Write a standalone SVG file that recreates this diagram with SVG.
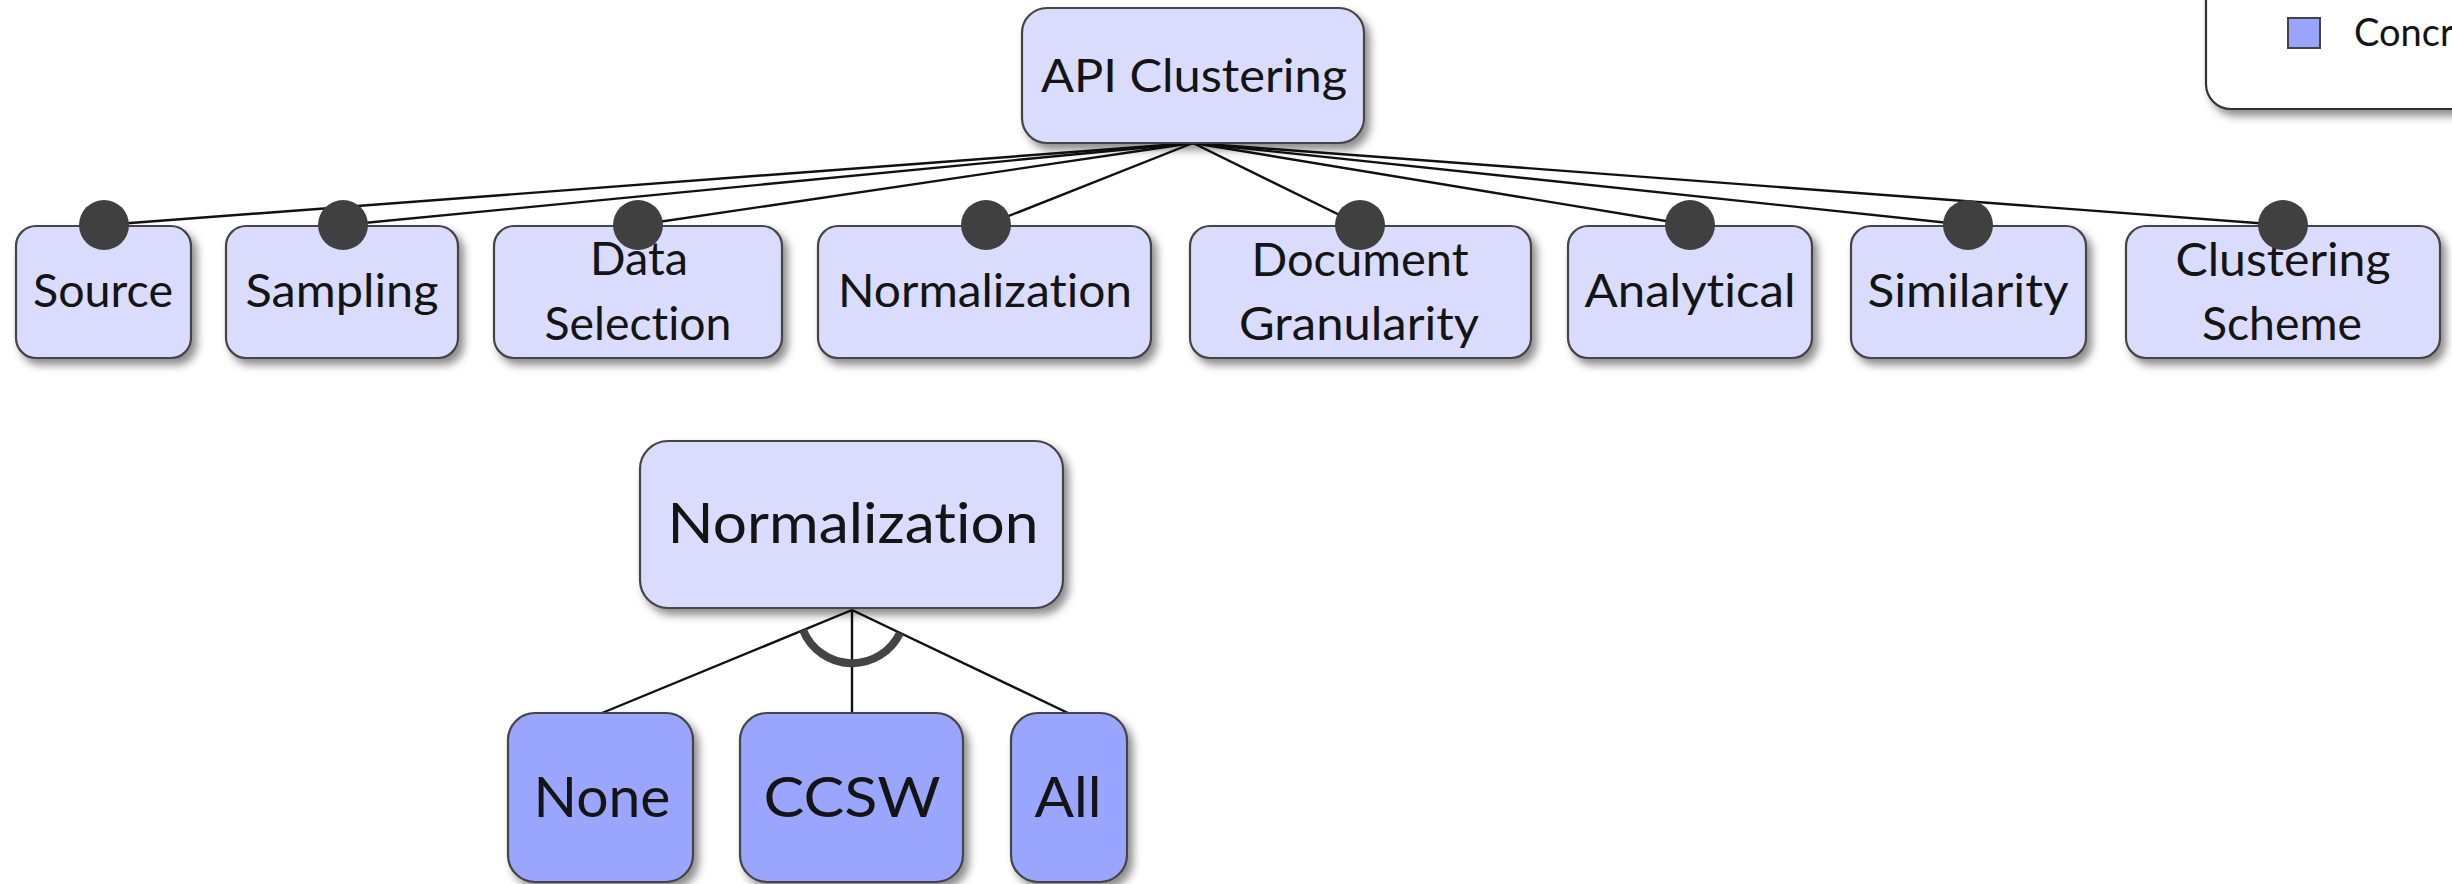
<svg xmlns="http://www.w3.org/2000/svg" width="2452" height="884" viewBox="0 0 2452 884">
  <defs>
    <filter id="shadow" x="-20%" y="-20%" width="150%" height="160%">
      <feDropShadow dx="5" dy="6" stdDeviation="4" flood-color="#000" flood-opacity="0.45"/>
    </filter>
  </defs>
  <style>
    text { font-variant-ligatures: none; font-feature-settings: "liga" 0, "clig" 0; }
    .feature { fill: #d9dcfc; stroke: #444; stroke-width: 2.2; filter: url(#shadow); }
    .concrete { fill: #9aa6fd; stroke: #444; stroke-width: 2.2; filter: url(#shadow); }
    .legend { fill: #fff; stroke: #333; stroke-width: 2.2; filter: url(#shadow); }
    .label { font-family: Lato, "Open Sans", sans-serif; fill: #141414; text-anchor: middle; }
    .top { font-size: 46px; }
    .big { font-size: 57px; }
    .edge { stroke: #111; stroke-width: 2.4; fill: none; }
    .mandatory { fill: #404040; }
    .alt { stroke: #444; stroke-width: 8; fill: none; }
  </style>

  <!-- legend panel (runs off the top-right edge) -->
  <g id="legend">
    <rect class="legend" x="2206" y="-40" width="300" height="149" rx="25"/>
    <rect x="2288" y="18" width="32" height="30" fill="#9aa6fd" stroke="#444" stroke-width="2"/>
    <text x="2354" y="46" font-family="Lato, 'Open Sans', sans-serif" font-size="38" fill="#141414">Concrete</text>
  </g>

  <!-- connectors -->
  <g id="connectors">
    <line class="edge" x1="1193" y1="143" x2="104" y2="225"/>
    <line class="edge" x1="1193" y1="143" x2="343" y2="225"/>
    <line class="edge" x1="1193" y1="143" x2="638" y2="225"/>
    <line class="edge" x1="1193" y1="143" x2="986" y2="225"/>
    <line class="edge" x1="1193" y1="143" x2="1360" y2="225"/>
    <line class="edge" x1="1193" y1="143" x2="1690" y2="225"/>
    <line class="edge" x1="1193" y1="143" x2="1968" y2="225"/>
    <line class="edge" x1="1193" y1="143" x2="2283" y2="225"/>
    <line class="edge" x1="852" y1="610" x2="602" y2="713"/>
    <line class="edge" x1="852" y1="610" x2="852" y2="713"/>
    <line class="edge" x1="852" y1="610" x2="1068" y2="713"/>
    <!-- alternative-group arc -->
    <path class="alt" d="M 803 630 A 53 53 0 0 0 900 633"/>
  </g>

  <g id="api-clustering">
    <rect class="feature" x="1022" y="8" width="342" height="135" rx="25"/>
    <text class="label top" x="1194" y="92" textLength="306" lengthAdjust="spacingAndGlyphs">API Clustering</text>
  </g>

  <g id="source">
    <rect class="feature" x="16" y="226" width="175" height="132" rx="20"/>
    <text class="label top" x="103" y="307" textLength="140" lengthAdjust="spacingAndGlyphs">Source</text>
  </g>
  <g id="sampling">
    <rect class="feature" x="226" y="226" width="232" height="132" rx="20"/>
    <text class="label top" x="342" y="307" textLength="193" lengthAdjust="spacingAndGlyphs">Sampling</text>
  </g>
  <g id="data-selection">
    <rect class="feature" x="494" y="226" width="288" height="132" rx="20"/>
    <text class="label top" x="639" y="275" textLength="98" lengthAdjust="spacingAndGlyphs">Data</text>
    <text class="label top" x="638" y="340" textLength="187" lengthAdjust="spacingAndGlyphs">Selection</text>
  </g>
  <g id="normalization">
    <rect class="feature" x="818" y="226" width="333" height="132" rx="20"/>
    <text class="label top" x="985" y="307" textLength="294" lengthAdjust="spacingAndGlyphs">Normalization</text>
  </g>
  <g id="document-granularity">
    <rect class="feature" x="1190" y="226" width="341" height="132" rx="20"/>
    <text class="label top" x="1360" y="276" textLength="217" lengthAdjust="spacingAndGlyphs">Document</text>
    <text class="label top" x="1359" y="340" textLength="240" lengthAdjust="spacingAndGlyphs">Granularity</text>
  </g>
  <g id="analytical">
    <rect class="feature" x="1568" y="226" width="244" height="132" rx="20"/>
    <text class="label top" x="1690" y="307" textLength="211" lengthAdjust="spacingAndGlyphs">Analytical</text>
  </g>
  <g id="similarity">
    <rect class="feature" x="1851" y="226" width="235" height="132" rx="20"/>
    <text class="label top" x="1968" y="307" textLength="201" lengthAdjust="spacingAndGlyphs">Similarity</text>
  </g>
  <g id="clustering-scheme">
    <rect class="feature" x="2126" y="226" width="314" height="132" rx="20"/>
    <text class="label top" x="2283" y="276" textLength="215" lengthAdjust="spacingAndGlyphs">Clustering</text>
    <text class="label top" x="2282" y="340" textLength="160" lengthAdjust="spacingAndGlyphs">Scheme</text>
  </g>

  <!-- mandatory markers on top of the child nodes -->
  <g id="mandatory-markers">
    <circle class="mandatory" cx="104" cy="225" r="25"/>
    <circle class="mandatory" cx="343" cy="225" r="25"/>
    <circle class="mandatory" cx="638" cy="225" r="25"/>
    <circle class="mandatory" cx="986" cy="225" r="25"/>
    <circle class="mandatory" cx="1360" cy="225" r="25"/>
    <circle class="mandatory" cx="1690" cy="225" r="25"/>
    <circle class="mandatory" cx="1968" cy="225" r="25"/>
    <circle class="mandatory" cx="2283" cy="225" r="25"/>
  </g>

  <g id="normalization-detail">
    <rect class="feature" x="640" y="441" width="423" height="167" rx="28"/>
    <text class="label big" x="853" y="543" textLength="371" lengthAdjust="spacingAndGlyphs">Normalization</text>
  </g>
  <g id="none">
    <rect class="concrete" x="508" y="713" width="185" height="169" rx="27"/>
    <text class="label big" x="602" y="817" textLength="137" lengthAdjust="spacingAndGlyphs">None</text>
  </g>
  <g id="ccsw">
    <rect class="concrete" x="740" y="713" width="223" height="169" rx="27"/>
    <text class="label big" x="852" y="817" textLength="177" lengthAdjust="spacingAndGlyphs">CCSW</text>
  </g>
  <g id="all">
    <rect class="concrete" x="1011" y="713" width="116" height="169" rx="27"/>
    <text class="label big" x="1068" y="817" textLength="67" lengthAdjust="spacingAndGlyphs">All</text>
  </g>
</svg>
